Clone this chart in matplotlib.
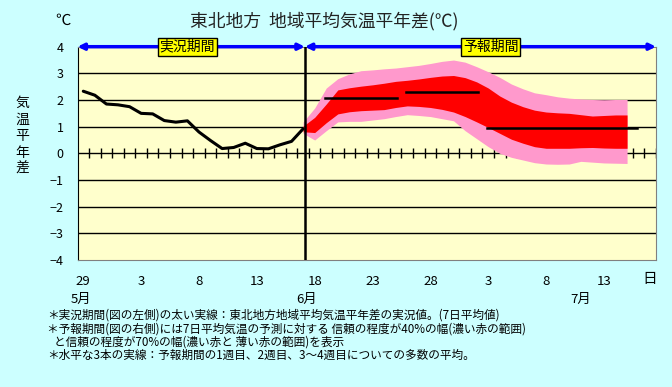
import numpy as np
import matplotlib
matplotlib.use("Agg")
import matplotlib.pyplot as plt
import matplotlib.transforms as mtransforms

plt.rcParams['font.family'] = ['Noto Sans CJK JP', 'DejaVu Sans']

# 日付インデックス: 0 = 5月29日
obs_days = np.arange(0, 20)
obs_vals = [2.33, 2.18, 1.85, 1.82, 1.75, 1.50, 1.48, 1.23, 1.17, 1.22,
            0.80, 0.48, 0.18, 0.22, 0.38, 0.18, 0.17, 0.32, 0.45, 0.92]

fc_days = np.arange(19, 48)
pink_hi = [1.18, 1.70, 2.45, 2.80, 2.98, 3.10, 3.13, 3.17, 3.20, 3.25,
           3.30, 3.37, 3.45, 3.50, 3.42, 3.25, 3.06, 2.85, 2.60, 2.42,
           2.27, 2.20, 2.12, 2.07, 2.04, 2.02, 2.01, 2.02, 2.02]
red_hi = [1.02, 1.35, 1.85, 2.38, 2.46, 2.52, 2.57, 2.63, 2.70, 2.74,
          2.79, 2.85, 2.90, 2.92, 2.84, 2.68, 2.45, 2.15, 1.92, 1.75,
          1.62, 1.55, 1.52, 1.50, 1.45, 1.40, 1.42, 1.44, 1.44]
red_lo = [0.81, 0.78, 1.15, 1.48, 1.56, 1.60, 1.62, 1.64, 1.72, 1.78,
          1.76, 1.72, 1.65, 1.55, 1.38, 1.18, 0.97, 0.75, 0.53, 0.38,
          0.25, 0.19, 0.19, 0.19, 0.21, 0.22, 0.20, 0.19, 0.19]
pink_lo = [0.75, 0.50, 0.85, 1.18, 1.20, 1.20, 1.25, 1.30, 1.38, 1.45,
           1.42, 1.38, 1.30, 1.22, 0.85, 0.55, 0.25, 0.00, -0.15, -0.25,
           -0.35, -0.40, -0.41, -0.40, -0.30, -0.33, -0.36, -0.37, -0.38]

# 1週目、2週目、3～4週目の平均 (開始日, 終了日, 値)
week_start = [20.9, 27.9, 34.9]
week_end = [27.1, 34.1, 47.9]
week_vals = [2.07, 2.31, 0.96]

obs_end = 19.15
tick_pos = [0, 5, 10, 15, 20, 25, 30, 35, 40, 45]
tick_labels = ['29', '3', '8', '13', '18', '23', '28', '3', '8', '13']
month_pos = [-0.2, 19.3, 43.0]
month_labels = ['5月', '6月', '7月']

notes = [
    "＊実況期間(図の左側)の太い実線：東北地方地域平均気温平年差の実況値。(7日平均値)",
    "＊予報期間(図の右側)には7日平均気温の予測に対する 信頼の程度が40%の幅(濃い赤の範囲)",
    "と信頼の程度が70%の幅(濃い赤と 薄い赤の範囲)を表示",
    "＊水平な3本の実線：予報期間の1週目、2週目、3～4週目についての多数の平均。",
]

W, H = 672, 387


def fx(px):
    return px / W


def fy(py):
    return 1 - py / H


fig = plt.figure(figsize=(W / 100, H / 100), dpi=100, facecolor='#CCFFFF')
ax = fig.add_axes([fx(77.5), fy(260), fx(656) - fx(77.5), fy(46.7) - fy(260)])
ax.set_facecolor('#FFFFCC')
ax.set_xlim(-0.5, 49.5)
ax.set_ylim(-4, 4)

for yv in [-3, -2, -1, 1, 2, 3]:
    ax.axhline(yv, color='black', lw=1, zorder=1)
ax.axhline(0, color='black', lw=1, zorder=1)
ax.plot(np.arange(0.5, 50, 1.0), np.zeros(50), '|', color='black',
        ms=7, mew=1, zorder=1)

ax.fill_between(fc_days, pink_lo, pink_hi, color='#FF99CC', lw=0, zorder=2)
ax.fill_between(fc_days, red_lo, red_hi, color='#FF0000', lw=0, zorder=3)

for s, e, v in zip(week_start, week_end, week_vals):
    ax.plot([s, e], [v, v], color='black', lw=1.8, zorder=4)

ax.plot(obs_days, obs_vals, color='black', lw=2.2, zorder=5,
        solid_capstyle='round')
ax.axvline(obs_end, color='black', lw=1.8, zorder=6)

for sp in ['top', 'right', 'bottom']:
    ax.spines[sp].set_color('#808080')
ax.spines['left'].set_color('black')

ax.set_yticks(range(-4, 5))
ax.set_yticklabels([str(v).replace('-', '−') for v in range(-4, 5)], fontsize=9)
ax.tick_params(axis='y', length=0, pad=10)
ax.set_xticks(tick_pos)
ax.set_xticklabels(tick_labels, fontsize=9.5)
ax.tick_params(axis='x', length=0, pad=11)

# 月の表示
trans = mtransforms.blended_transform_factory(ax.transData, ax.transAxes)
for p, lab in zip(month_pos, month_labels):
    ax.text(p, -0.183, lab, transform=trans, ha='center', va='center',
            fontsize=9.5, clip_on=False)

# 期間の矢印
arrow_kw = dict(arrowstyle='<|-|>', color='#0000FF', lw=2.5,
                mutation_scale=9, shrinkA=0, shrinkB=0)
ax.annotate('', xy=(-0.5, 4), xytext=(obs_end, 4), arrowprops=arrow_kw,
            annotation_clip=False, zorder=7)
ax.annotate('', xy=(obs_end, 4), xytext=(49.5, 4), arrowprops=arrow_kw,
            annotation_clip=False, zorder=7)
box = dict(boxstyle='square,pad=0.15', fc='#FFFF00', ec='black', lw=1)
ax.text(9.0, 4, '実況期間', ha='center', va='center', fontsize=10,
        bbox=box, zorder=8, clip_on=False)
ax.text(35.2, 4, '予報期間', ha='center', va='center', fontsize=10,
        bbox=box, zorder=8, clip_on=False)

fig.text(fx(324), fy(21), '東北地方  地域平均気温平年差(℃)', ha='center',
         va='center', fontsize=12.8, color='#222222')
fig.text(fx(63), fy(20), '℃', ha='center', va='center', fontsize=11)
for i, ch in enumerate('気温平年差'):
    fig.text(fx(22), fy(103 + i * 16.5), ch, ha='center', va='center',
             fontsize=10)
fig.text(fx(650), fy(279), '日', ha='center', va='center', fontsize=10.5)

note_x = [47, 47, 54, 47]
note_y = [315, 329, 342, 355]
for x, y, t in zip(note_x, note_y, notes):
    fig.text(fx(x), fy(y), t, ha='left', va='center', fontsize=8.4)

fig.savefig('out.png', dpi=100, facecolor=fig.get_facecolor())
